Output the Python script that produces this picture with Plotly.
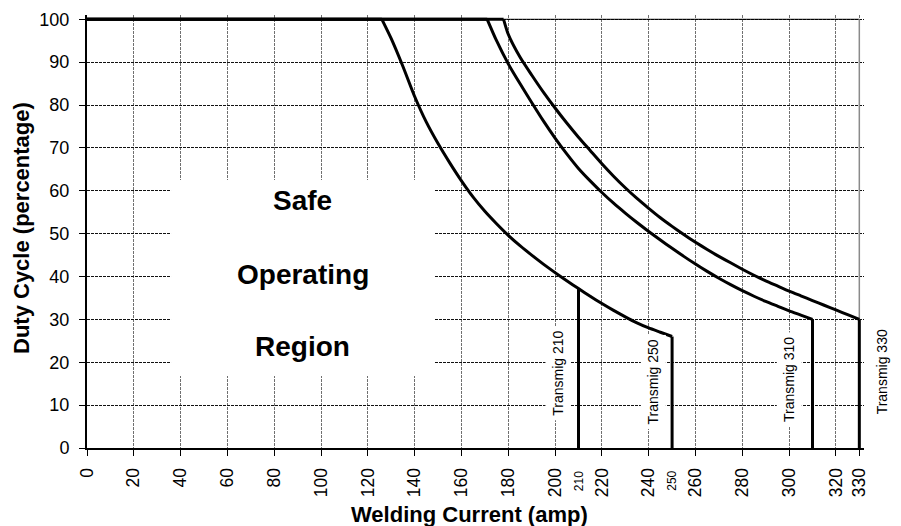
import plotly.graph_objects as go

# ---- data ----
t250_current = [0, 126, 130, 135, 140, 145, 150, 155, 160, 165, 170, 175, 180, 185, 190, 195, 200,
                205, 210, 215, 220, 225, 230, 235, 240, 245, 250, 250]
t250_duty = [100, 100, 95.5, 89, 82, 76, 71, 66.5, 62.3, 58.5, 55.2, 52.3, 49.6, 47.2, 45, 42.9, 40.9,
             39, 37.2, 35.4, 33.7, 32.1, 30.6, 29.2, 28, 27, 26, 0]

t210_current = [210, 210]
t210_duty = [37.2, 0]

t310_current = [0, 171, 175, 180, 185, 190, 195, 200, 205, 210, 215, 220, 225, 230, 235, 240, 245,
                250, 255, 260, 265, 270, 275, 280, 285, 290, 295, 300, 305, 310, 310]
t310_duty = [100, 100, 95, 89.6, 85, 80.6, 76.3, 72.3, 68.6, 65.2, 62.3, 59.6, 57.1, 54.8, 52.6, 50.5, 48.5,
             46.6, 44.7, 42.9, 41.2, 39.6, 38.1, 36.7, 35.4, 34.2, 33.1, 32, 31, 30, 0]

t330_current = [0, 178, 180, 185, 190, 195, 200, 205, 210, 215, 220, 225, 230, 235, 240, 245, 250,
                255, 260, 265, 270, 275, 280, 285, 290, 295, 300, 305, 310, 315, 320, 325, 330, 330]
t330_duty = [100, 100, 96.5, 91.2, 87, 83, 79.3, 75.8, 72.5, 69.4, 66.3, 63.4, 60.7, 58.2, 55.9, 53.7, 51.7,
             49.8, 48, 46.3, 44.7, 43.2, 41.7, 40.3, 39, 37.8, 36.6, 35.5, 34.4, 33.3, 32.2, 31.1, 30, 0]

x_tick_vals = [0, 20, 40, 60, 80, 100, 120, 140, 160, 180, 200, 220, 240, 260, 280, 300, 320, 330]
y_tick_vals = [0, 10, 20, 30, 40, 50, 60, 70, 80, 90, 100]

model_names = ["Transmig 210", "Transmig 250", "Transmig 310", "Transmig 330"]
model_label_x = [201.4, 241.8, 300, 339.8]
model_label_y = [17.4, 15.5, 15.9, 17.7]

small_tick_vals = [210, 250]

region_words = ["Safe", "Operating", "Region"]
region_word_y = [57.8, 40.4, 23.6]
region_center_x = 92.2
region_box = [35.9, 148.3, 16.8, 62.5]  # x0, x1, y0, y1

X_MAX = 332
FONT = "Liberation Sans, Arial, sans-serif"
LINE = dict(color="black", width=3)
CURVE = dict(color="black", width=3, shape="spline", smoothing=0.6)

fig = go.Figure()
# flat 100 % part (straight), curved derating part (smooth), vertical cut-off (straight)
for xs, ys in [(t250_current, t250_duty), (t310_current, t310_duty), (t330_current, t330_duty)]:
    fig.add_trace(go.Scatter(x=xs[:2], y=ys[:2], mode="lines", line=LINE,
                             showlegend=False, hoverinfo="skip"))
    fig.add_trace(go.Scatter(x=xs[1:-1], y=ys[1:-1], mode="lines", line=CURVE,
                             showlegend=False, hoverinfo="skip"))
    fig.add_trace(go.Scatter(x=xs[-2:], y=ys[-2:], mode="lines", line=LINE,
                             showlegend=False, hoverinfo="skip"))
fig.add_trace(go.Scatter(x=t210_current, y=t210_duty, mode="lines", line=LINE,
                         showlegend=False, hoverinfo="skip"))

shapes = [
    # white "safe operating region" panel hiding the grid
    dict(type="rect", xref="x", yref="y", x0=region_box[0], x1=region_box[1],
         y0=region_box[2], y1=region_box[3], fillcolor="white",
         line=dict(width=0), layer="between"),
    # solid top line at 100 %
    dict(type="line", xref="x", yref="y", x0=0, x1=330, y0=100, y1=100,
         line=dict(color="black", width=1), layer="between"),
    # solid right border at 330 A
    dict(type="line", xref="x", yref="y", x0=330, x1=330, y0=0, y1=100,
         line=dict(color="#8a8a8a", width=1.5), layer="between"),
]

annotations = []
for w, yy in zip(region_words, region_word_y):
    annotations.append(dict(x=region_center_x, y=yy, xref="x", yref="y", text=w,
                            showarrow=False, xanchor="center", yanchor="middle",
                            font=dict(family=FONT, size=28, color="black", weight="bold")))
for name, lx, ly in zip(model_names, model_label_x, model_label_y):
    annotations.append(dict(x=lx / X_MAX, y=ly, xref="paper", yref="y", text=name, textangle=-90,
                            showarrow=False, xanchor="center", yanchor="middle",
                            bgcolor="white", borderpad=4,
                            font=dict(family=FONT, size=14, color="black")))
for v in small_tick_vals:
    annotations.append(dict(x=v, y=-0.0755, xref="x", yref="paper", text=str(v),
                            textangle=-90, showarrow=False, xanchor="center",
                            yanchor="middle",
                            font=dict(family=FONT, size=12, color="black")))
annotations.append(dict(x=(469 - 87) / 777, y=(448 - 514) / 433, xref="paper", yref="paper",
                        text="Welding Current (amp)", showarrow=False,
                        xanchor="center", yanchor="middle",
                        font=dict(family=FONT, size=22, color="black", weight="bold")))
annotations.append(dict(x=(22 - 87) / 777, y=(448 - 228) / 433, xref="paper", yref="paper",
                        text="Duty Cycle (percentage)", textangle=-90, showarrow=False,
                        xanchor="center", yanchor="middle",
                        font=dict(family=FONT, size=22, color="black", weight="bold")))

# the page body has an 8px margin, so the figure is 8px smaller and margins shifted
fig.update_layout(
    width=893, height=518,
    margin=dict(l=79, r=37, t=7, b=78),
    paper_bgcolor="white", plot_bgcolor="white",
    font=dict(family=FONT, color="black"),
    shapes=shapes, annotations=annotations,
    showlegend=False,
)
fig.update_xaxes(
    range=[0, X_MAX], tickmode="array", tickvals=x_tick_vals,
    ticktext=[str(v) for v in x_tick_vals], tickangle=-90,
    tickfont=dict(family=FONT, size=17.5, color="black"),
    ticks="outside", ticklen=6, tickwidth=1, tickcolor="black",
    ticklabelstandoff=5,
    showline=True, linecolor="black", linewidth=2,
    showgrid=True, gridcolor="#707070", gridwidth=1, griddash="3px,1px",
    zeroline=False, automargin=False,
)
fig.update_yaxes(
    range=[0, 101], tickmode="array", tickvals=y_tick_vals,
    tickfont=dict(family=FONT, size=18, color="black"),
    ticks="outside", ticklen=6, tickwidth=1, tickcolor="black",
    ticklabelstandoff=6,
    showline=True, linecolor="black", linewidth=2,
    showgrid=True, gridcolor="#111111", gridwidth=1, griddash="3px,1px",
    zeroline=False, automargin=False,
)

fig.write_html("out.html")
